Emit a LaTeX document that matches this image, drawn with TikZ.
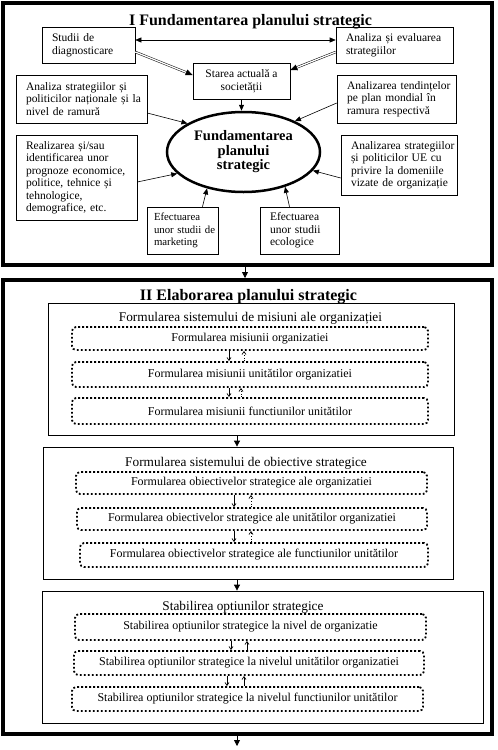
\documentclass[tikz,border=0pt]{standalone}
\usepackage{fontspec}
\setmainfont{Liberation Serif}
\usetikzlibrary{arrows.meta,shapes.geometric}
\newcommand\lne[1]{\mbox{#1}}
\tikzset{
  frame/.style={draw, line width=4pt, inner sep=0pt},
  ttl/.style={font=\fontsize{16}{18}\selectfont\bfseries, inner sep=0pt, anchor=base},
  stl/.style={font=\fontsize{13.3}{15}\selectfont, inner sep=0pt, anchor=base},
  tbox/.style={draw, line width=0.6pt, align=left, inner xsep=10pt, inner ysep=2pt, font=\fontsize{11.5}{12.5}\selectfont},
  cbox/.style={draw, line width=0.6pt, align=center, inner sep=2pt, font=\fontsize{11.5}{12.5}\selectfont},
  ell/.style={draw, ellipse, line width=2.5pt, inner sep=0pt, align=center, font=\fontsize{14.5}{14.5}\selectfont\bfseries},
  sbox/.style={draw, line width=0.8pt, inner sep=0pt},
  dbox/.style={draw, line width=1.8pt, dash pattern=on 1.8pt off 2.2pt, rounded corners=4pt, inner sep=0pt, font=\fontsize{12}{13}\selectfont},
  arr/.style={-{Triangle[length=6pt,width=5pt]}, line width=0.6pt},
  arrb/.style={{Triangle[length=6pt,width=5pt]}-{Triangle[length=6pt,width=5pt]}, line width=0.6pt},
  dbl/.style={double, double distance=1.3pt, line width=0.5pt, -{Triangle[length=7pt,width=6pt]}},
  bigarr/.style={-{Triangle[length=6pt,width=6pt]}, line width=0.8pt},
  dn/.style={-{Straight Barb[length=3pt,width=4pt]}, line width=0.7pt},
  upd/.style={dn, dotted},
}
\begin{document}
\begin{tikzpicture}[x=1pt,y=-1pt]
\useasboundingbox (0,0) rectangle (498,750);
\fill[white] (0,0) rectangle (498,750);

% Frames
\node[frame, minimum width=489.5pt, minimum height=262.5pt] (fI) at (247.25,133.75) {};
\node[frame, minimum width=489.5pt, minimum height=454pt] (fII) at (247.25,507) {};

\node[ttl] (tI) at (250.5,25) {I Fundamentarea planului strategic};
\node[ttl] (tII) at (248.5,300) {II Elaborarea planului strategic};

% Part I boxes
\node[tbox, text width=73pt, minimum height=36pt] (studii) at (88.5,45) {\lne{Studii de}\\\lne{diagnosticare}};
\node[tbox, text width=97pt, minimum height=36pt] (analiza) at (394.5,45) {\lne{Analiza și evaluarea}\\\lne{strategiilor}};
\node[cbox, minimum width=97pt, minimum height=36pt] (starea) at (241.5,81) {Starea actuală a\\societății};
\node[tbox, text width=111pt, minimum height=48pt] (astrat) at (81.5,99) {\lne{Analiza strategiilor și}\\\lne{politicilor naționale și la}\\\lne{nivel de ramură}};
\node[tbox, text width=99pt, minimum height=48pt] (tend) at (396.5,99) {\lne{Analizarea tendințelor}\\\lne{pe plan mondial în}\\\lne{ramura respectivă}};
\node[tbox, text width=101pt, minimum height=85pt] (real) at (76.5,177.5) {\lne{Realizarea și/sau}\\\lne{identificarea unor}\\\lne{prognoze economice,}\\\lne{politice, tehnice și}\\\lne{tehnologice,}\\\lne{demografice, etc.}};
\node[tbox, text width=96pt, minimum height=60pt] (ue) at (399,165) {\lne{Analizarea strategiilor}\\\lne{și politicilor UE cu}\\\lne{privire la domeniile}\\\lne{vizate de organizație}};
\node[tbox, inner xsep=7pt, text width=57pt, minimum height=47pt, font=\fontsize{10.8}{12.5}\selectfont] (mark) at (182.5,230.5) {\lne{Efectuarea}\\\lne{unor studii de}\\\lne{marketing}};
\node[tbox, text width=59pt, minimum height=47pt] (eco) at (299.5,230.5) {\lne{Efectuarea}\\\makebox[59pt][s]{unor studii}\\\lne{ecologice}};
\node[ell, minimum width=153pt, minimum height=80pt] (ell) at (243.5,152) {Fundamentarea\\planului\\strategic};

% Part I connectors
\draw[arrb] ([yshift=5pt]studii.east) -- ([yshift=5pt]analiza.west);
\draw[dbl] ([yshift=-7pt]studii.east) -- ([yshift=6pt]starea.west);
\draw[dbl] ([yshift=-7pt]analiza.west) -- ([yshift=11pt]starea.east);
\draw[arr] (starea.south) -- (starea.south |- ell.north);
\draw[arr] ([yshift=-14pt]astrat.east) -- (ell.153);
\draw[arr] ([yshift=-4pt]tend.west) -- (ell.31);
\draw[arr] ([yshift=-4.5pt]real.east) -- (ell.198);
\draw[arr] ([yshift=-13pt]ue.west) -- (ell.345);
\draw[arr] ([xshift=20pt]mark.north) -- (ell.225);
\draw[arr] ([xshift=-10pt]eco.north) -- (ell.320);

\draw[bigarr] ([xshift=-2.25pt]fI.south) -- ([xshift=-2.25pt]fII.north);
\coordinate (endb) at (237,746);
\draw[bigarr] (fII.south -| endb) -- (endb);

% Part II: missions
\node[sbox, minimum width=406pt, minimum height=132pt] (M) at (251,369) {};
\node[stl] (Mt) at (250.5,321) {Formularea sistemului de misiuni ale organizației};
\node[dbox, minimum width=356pt, minimum height=23pt] (M1) at (250,338.5) {Formularea misiunii organizatiei};
\node[dbox, minimum width=356pt, minimum height=25pt] (M2) at (250,374.5) {Formularea misiunii unitătilor organizatiei};
\node[dbox, minimum width=356pt, minimum height=26pt] (M3) at (250,411) {Formularea misiunii functiunilor unitătilor};
\draw[dn] ([xshift=-21pt]M1.south) -- ([xshift=-21pt]M1.south |- M2.north);
\draw[upd] ([xshift=-6pt]M2.north) -- ([xshift=-6pt]M2.north |- M1.south);
\draw[dn] ([xshift=-21pt]M2.south) -- ([xshift=-21pt]M2.south |- M3.north);
\draw[upd] ([xshift=-9pt]M3.north) -- ([xshift=-9pt]M3.north |- M2.south);

% objectives
\node[sbox, minimum width=410pt, minimum height=132pt] (O) at (248,513) {};
\node[stl] (Ot) at (246,466) {Formularea sistemului de obiective strategice};
\node[dbox, minimum width=351pt, minimum height=22pt] (O1) at (251.5,483) {Formularea obiectivelor strategice ale organizatiei};
\node[dbox, minimum width=350pt, minimum height=22pt] (O2) at (252,519) {Formularea obiectivelor strategice ale unitătilor organizatiei};
\node[dbox, minimum width=348pt, minimum height=24pt] (O3) at (254,555) {Formularea obiectivelor strategice ale functiunilor unitătilor};
\draw[dn] ([xshift=-17.5pt]O1.south) -- ([xshift=-17.5pt]O1.south |- O2.north);
\draw[upd] ([xshift=-1pt]O2.north) -- ([xshift=-1pt]O2.north |- O1.south);
\draw[dn] ([xshift=-18pt]O2.south) -- ([xshift=-18pt]O2.south |- O3.north);
\draw[upd] ([xshift=-3pt]O3.north) -- ([xshift=-3pt]O3.north |- O2.south);

% options
\node[sbox, minimum width=441pt, minimum height=132pt] (S) at (262.5,657) {};
\node[stl] (St) at (243,610) {Stabilirea optiunilor strategice};
\node[dbox, minimum width=351pt, minimum height=26pt] (S1) at (250.5,627) {Stabilirea optiunilor strategice la nivel de organizatie};
\node[dbox, minimum width=350pt, minimum height=24pt] (S2) at (249,663) {Stabilirea optiunilor strategice la nivelul unitătilor organizatiei};
\node[dbox, minimum width=351pt, minimum height=24pt] (S3) at (247.5,699) {Stabilirea optiunilor strategice la nivelul functiunilor unitătilor};
\draw[dn] ([xshift=-19.5pt]S1.south) -- ([xshift=-19.5pt]S1.south |- S2.north);
\draw[dn] ([xshift=-2pt]S2.north) -- ([xshift=-2pt]S2.north |- S1.south);
\draw[dn] ([xshift=-22pt]S2.south) -- ([xshift=-22pt]S2.south |- S3.north);
\draw[dn] ([xshift=-3.5pt]S3.north) -- ([xshift=-3.5pt]S3.north |- S2.south);

\draw[bigarr] ([xshift=-14pt]M.south) -- ([xshift=-14pt]M.south |- O.north);
\draw[bigarr] ([xshift=-11pt]O.south) -- ([xshift=-11pt]O.south |- S.north);
\end{tikzpicture}
\end{document}
